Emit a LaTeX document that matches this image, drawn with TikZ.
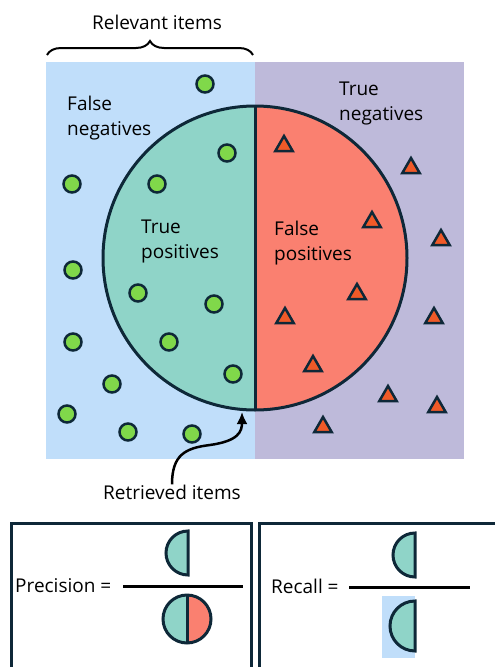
\documentclass[tikz,border=0pt]{standalone}
\usepackage{fontspec}
\setmainfont{Open Sans}
\usetikzlibrary{arrows.meta,decorations.pathreplacing,shapes.geometric}

\definecolor{relblue}{RGB}{192,222,250}
\definecolor{negpurple}{RGB}{190,186,218}
\definecolor{tpteal}{RGB}{143,212,200}
\definecolor{fpsalmon}{RGB}{250,128,112}
\definecolor{dotgreen}{RGB}{128,216,74}
\definecolor{triorange}{RGB}{240,90,40}
\definecolor{navy}{RGB}{14,40,56}

\begin{document}
\begin{tikzpicture}[x=1pt, y=-1pt,
  rim/.style={draw=navy, line width=3pt},
  gooddot/.style={circle, fill=dotgreen, draw=navy, line width=2.5pt, minimum size=17pt, inner sep=0pt},
  badtri/.style={regular polygon, regular polygon sides=3, fill=triorange, draw=navy, line width=2.5pt, minimum size=20pt, inner sep=0pt},
  lbl/.style={font=\fontsize{19}{25}\selectfont, inner sep=0pt, align=left}]
  \useasboundingbox (0,0) rectangle (495,667);
  \clip (0,0) rectangle (495,667);
  % background halves
  \fill[relblue] (46,62) rectangle (255,459);
  \fill[negpurple] (255,62) rectangle (464,459);
  % retrieved circle
  \fill[tpteal] (255,106) arc[start angle=270, end angle=90, radius=152] -- cycle;
  \fill[fpsalmon] (255,106) arc[start angle=-90, end angle=90, radius=152] -- cycle;
  \draw[rim] (255,258) circle[radius=152];
  \draw[rim] (255,106) -- (255,410);
  % relevant items
  \node[gooddot] (d1) at (205,84) {};
  \node[gooddot] (d2) at (227,153) {};
  \node[gooddot] (d3) at (157,184) {};
  \node[gooddot] (d4) at (72,184) {};
  \node[gooddot] (d5) at (73,270) {};
  \node[gooddot] (d6) at (138,293) {};
  \node[gooddot] (d7) at (214,304) {};
  \node[gooddot] (d8) at (73,342) {};
  \node[gooddot] (d9) at (169,342) {};
  \node[gooddot] (d10) at (233,374) {};
  \node[gooddot] (d11) at (112,384) {};
  \node[gooddot] (d12) at (67,414) {};
  \node[gooddot] (d13) at (128,432) {};
  \node[gooddot] (d14) at (192,434) {};
  % irrelevant items
  \node[badtri] (t1) at (284,146) {};
  \node[badtri] (t2) at (411,168) {};
  \node[badtri] (t3) at (372,222) {};
  \node[badtri] (t4) at (441,240) {};
  \node[badtri] (t5) at (357,294) {};
  \node[badtri] (t6) at (285,318) {};
  \node[badtri] (t7) at (434,318) {};
  \node[badtri] (t8) at (313,366) {};
  \node[badtri] (t9) at (388,396) {};
  \node[badtri] (t10) at (437,407) {};
  \node[badtri] (t11) at (323,427) {};
  % region labels (base = last line)
  \node[lbl, anchor=base west] (fn) at (67,135) {False\\negatives};
  \node[lbl, anchor=base west] (tn) at (339,120) {True\\negatives};
  \node[lbl, anchor=base west] (tp) at (141,258) {True\\positives};
  \node[lbl, anchor=base west] (fp) at (274,260) {False\\positives};
  % brace and arrow
  \coordinate (relL) at (47,55);
  \coordinate (relR) at (253,55);
  \draw[decorate, decoration={brace, amplitude=14pt}, line width=2pt] (relL) -- (relR);
  \node[lbl, anchor=base] (rel) at (157,29) {Relevant items};
  \node[lbl, anchor=base] (retr) at (172,499) {Retrieved items};
  \coordinate (ret) at (242,412);
  \draw[line width=2.5pt, -{Latex[length=12pt,width=11pt]}] (retr.north) .. controls (172,455) and (185,448) .. (210,445) .. controls (238,441) and (242,432) .. (ret);
  % precision box
  \draw[rim] (11,523) rectangle (251,700);
  \node[lbl, anchor=base west] (prec) at (15,592) {Precision =};
  \draw[line width=3pt] (123,586) -- (243,586);
  \filldraw[rim, fill=tpteal] (188,531) arc[start angle=270, end angle=90, radius=22] -- cycle;
  \fill[tpteal] (187,595) arc[start angle=270, end angle=90, radius=24] -- cycle;
  \fill[fpsalmon] (187,595) arc[start angle=-90, end angle=90, radius=24] -- cycle;
  \draw[rim] (187,619) circle[radius=24];
  \draw[rim] (187,595) -- (187,643);
  % recall box
  \draw[rim] (259,523) rectangle (520,700);
  \node[lbl, anchor=base west] (rec) at (271,593) {Recall =};
  \draw[line width=3pt] (349,587) -- (470,587);
  \filldraw[rim, fill=tpteal] (415,533) arc[start angle=270, end angle=90, radius=22] -- cycle;
  \fill[relblue] (382,596) rectangle (415,658);
  \filldraw[rim, fill=tpteal] (415,601) arc[start angle=270, end angle=90, radius=25] -- cycle;
\end{tikzpicture}
\end{document}
